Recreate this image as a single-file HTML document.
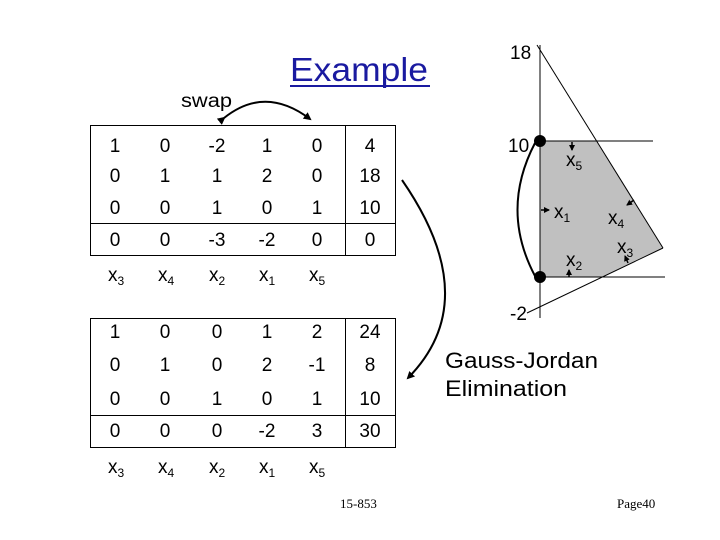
<!DOCTYPE html>
<html><head><style>
html,body{margin:0;padding:0;background:#fff}
svg{display:block}
text{font-family:"Liberation Sans",sans-serif;fill:#000}
</style></head><body>
<svg width="720" height="540" viewBox="0 0 720 540" xmlns="http://www.w3.org/2000/svg">
<defs>
<marker id="ah" markerWidth="8" markerHeight="8" refX="6" refY="4" orient="auto" markerUnits="userSpaceOnUse"><path d="M0,0 L8,4 L0,8 Z" fill="#000"/></marker>
<marker id="sa" markerWidth="6" markerHeight="6" refX="5" refY="3" orient="auto" markerUnits="userSpaceOnUse"><path d="M0,0 L6,3 L0,6 Z" fill="#000"/></marker>
</defs>
<text x="290" y="81" font-size="33" textLength="138" lengthAdjust="spacingAndGlyphs" style="fill:#1a1aa0">Example</text>
<line x1="290" y1="86" x2="430" y2="86" stroke="#1a1aa0" stroke-width="2"/>
<text x="181" y="107" font-size="19" textLength="51" lengthAdjust="spacingAndGlyphs">swap</text>
<path d="M224,118 Q265,85 310,119" fill="none" stroke="#000" stroke-width="2" marker-start="url(#ah)" marker-end="url(#ah)"/>

<g font-size="19" text-anchor="middle">
<rect x="90.5" y="125.5" width="305" height="130" fill="none" stroke="#000"/>
<line x1="90" y1="223.5" x2="396" y2="223.5" stroke="#000"/>
<line x1="345.5" y1="125" x2="345.5" y2="256" stroke="#000"/>
<text x="115" y="152">1</text><text x="165" y="152">0</text><text x="217" y="152">-2</text><text x="267" y="152">1</text><text x="317" y="152">0</text><text x="370" y="152">4</text>
<text x="115" y="182">0</text><text x="165" y="182">1</text><text x="217" y="182">1</text><text x="267" y="182">2</text><text x="317" y="182">0</text><text x="370" y="182">18</text>
<text x="115" y="214">0</text><text x="165" y="214">0</text><text x="217" y="214">1</text><text x="267" y="214">0</text><text x="317" y="214">1</text><text x="370" y="214">10</text>
<text x="115" y="246">0</text><text x="165" y="246">0</text><text x="217" y="246">-3</text><text x="267" y="246">-2</text><text x="317" y="246">0</text><text x="370" y="246">0</text>

<rect x="90.5" y="318.5" width="305" height="129" fill="none" stroke="#000"/>
<line x1="90" y1="415.5" x2="396" y2="415.5" stroke="#000"/>
<line x1="345.5" y1="318" x2="345.5" y2="448" stroke="#000"/>
<text x="115" y="338">1</text><text x="165" y="338">0</text><text x="217" y="338">0</text><text x="267" y="338">1</text><text x="317" y="338">2</text><text x="370" y="338">24</text>
<text x="115" y="371">0</text><text x="165" y="371">1</text><text x="217" y="371">0</text><text x="267" y="371">2</text><text x="317" y="371">-1</text><text x="370" y="371">8</text>
<text x="115" y="405">0</text><text x="165" y="405">0</text><text x="217" y="405">1</text><text x="267" y="405">0</text><text x="317" y="405">1</text><text x="370" y="405">10</text>
<text x="115" y="437">0</text><text x="165" y="437">0</text><text x="217" y="437">0</text><text x="267" y="437">-2</text><text x="317" y="437">3</text><text x="370" y="437">30</text>
</g>
<g font-size="19">
<text x="108" y="281">x<tspan font-size="12" dy="4">3</tspan></text>
<text x="158" y="281">x<tspan font-size="12" dy="4">4</tspan></text>
<text x="209" y="281">x<tspan font-size="12" dy="4">2</tspan></text>
<text x="259" y="281">x<tspan font-size="12" dy="4">1</tspan></text>
<text x="309" y="281">x<tspan font-size="12" dy="4">5</tspan></text>
<text x="108" y="473">x<tspan font-size="12" dy="4">3</tspan></text>
<text x="158" y="473">x<tspan font-size="12" dy="4">4</tspan></text>
<text x="209" y="473">x<tspan font-size="12" dy="4">2</tspan></text>
<text x="259" y="473">x<tspan font-size="12" dy="4">1</tspan></text>
<text x="309" y="473">x<tspan font-size="12" dy="4">5</tspan></text>
</g>

<path d="M402,180 Q485,300 408,378" fill="none" stroke="#000" stroke-width="2" marker-end="url(#ah)"/>

<polygon points="540,141 596,141 663,248 602,277 540,277" fill="#c0c0c0"/>
<line x1="540" y1="45" x2="540" y2="318" stroke="#000"/>
<line x1="540" y1="141" x2="653" y2="141" stroke="#000"/>
<line x1="540" y1="277" x2="665" y2="277" stroke="#000"/>
<line x1="537" y1="45" x2="663" y2="248" stroke="#000"/>
<line x1="663" y1="248" x2="527" y2="313" stroke="#000"/>
<path d="M535,143 Q500,210 535,276" fill="none" stroke="#000" stroke-width="2"/>
<circle cx="540" cy="141" r="6" fill="#000"/>
<circle cx="540" cy="277" r="6" fill="#000"/>
<g font-size="19">
<text x="510" y="59">18</text>
<text x="508" y="152">10</text>
<text x="510" y="320">-2</text>
<text x="566" y="166">x<tspan font-size="12" dy="4">5</tspan></text>
<text x="554" y="218">x<tspan font-size="12" dy="4">1</tspan></text>
<text x="608" y="224">x<tspan font-size="12" dy="4">4</tspan></text>
<text x="566" y="266">x<tspan font-size="12" dy="4">2</tspan></text>
<text x="617" y="253">x<tspan font-size="12" dy="4">3</tspan></text>
</g>
<g stroke="#000" stroke-width="1.5">
<line x1="572" y1="142" x2="572" y2="150" marker-end="url(#sa)"/>
<line x1="541" y1="210" x2="549" y2="210" marker-end="url(#sa)"/>
<line x1="634" y1="200" x2="627" y2="205" marker-end="url(#sa)"/>
<line x1="569" y1="277" x2="569" y2="270" marker-end="url(#sa)"/>
<line x1="628" y1="263" x2="625" y2="256" marker-end="url(#sa)"/>
</g>
<text x="445" y="368" font-size="22" textLength="153" lengthAdjust="spacingAndGlyphs">Gauss-Jordan</text>
<text x="445" y="396" font-size="22" textLength="122" lengthAdjust="spacingAndGlyphs">Elimination</text>
<text x="340" y="508" font-size="13" style="font-family:'Liberation Serif',serif">15-853</text>
<text x="617" y="508" font-size="13" style="font-family:'Liberation Serif',serif">Page40</text>
</svg>
</body></html>
